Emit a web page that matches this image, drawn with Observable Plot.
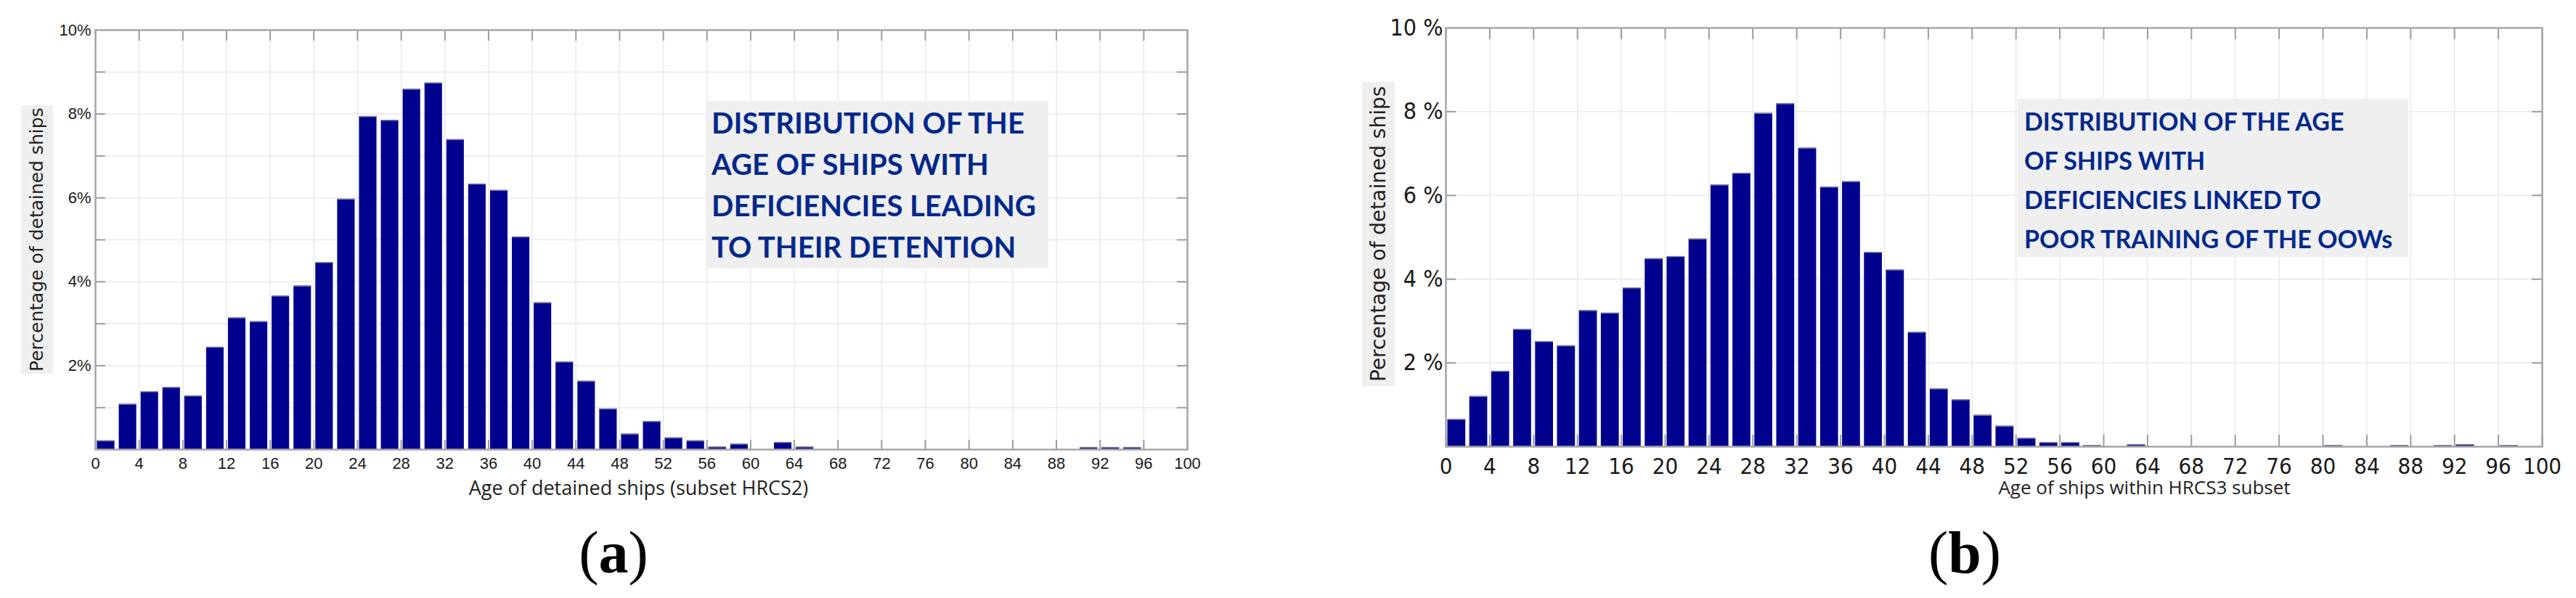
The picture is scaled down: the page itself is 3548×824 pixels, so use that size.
<!DOCTYPE html>
<html><head><meta charset="utf-8">
<script src="https://cdn.jsdelivr.net/npm/d3@7"></script>
<script src="https://cdn.jsdelivr.net/npm/@observablehq/plot@0.6"></script>
<style>
html,body{margin:0;padding:0;background:#fff;}
#page{position:relative;width:3548px;height:824px;overflow:hidden;background:#fff;}
.panel{position:absolute;top:0;}
.ylab{position:absolute;background:#efefef;writing-mode:vertical-rl;transform:rotate(180deg);text-align:center;font-family:"DejaVu Sans",sans-serif;color:#222;white-space:nowrap;}
.note{position:absolute;background:#efefef;color:#00288c;font-family:Lato,"Open Sans",sans-serif;font-weight:bold;white-space:pre;box-sizing:border-box;}
.sub{position:absolute;font-family:"Liberation Serif","Times New Roman",serif;color:#000;line-height:1;white-space:nowrap;transform:translateX(-50%);}
</style></head>
<body><div id="page"></div>
<script>
// Age bins (start of each 2-year bin)
const binStart = [0,2,4,6,8,10,12,14,16,18,20,22,24,26,28,30,32,34,36,38,40,42,44,46,48,
                  50,52,54,56,58,60,62,64,66,68,70,72,74,76,78,80,82,84,86,88,90,92,94,96,98];
// (a) HRCS2 subset, % of detained ships
const pctA = [0.21,1.08,1.38,1.48,1.28,2.44,3.14,3.05,3.66,3.90,4.46,5.97,7.94,7.85,8.59,8.74,7.39,6.33,6.18,5.07,
              3.50,2.09,1.63,0.97,0.37,0.67,0.28,0.21,0.06,0.13,0,0.17,0.06,0,0,0,0,0,0,0,
              0,0,0,0,0,0.05,0.05,0.05,0,0];
// (b) HRCS3 subset, % of detained ships
const pctB = [0.65,1.20,1.80,2.80,2.51,2.41,3.25,3.19,3.79,4.49,4.54,4.96,6.25,6.53,7.96,8.19,7.13,6.20,6.33,4.64,
              4.22,2.73,1.38,1.12,0.75,0.49,0.20,0.10,0.10,0.03,0,0.05,0,0,0,0,0,0,0,0,
              0.03,0,0,0.03,0,0.03,0.05,0,0.03,0];
const binWidth = 2;
const xTicks = [0,4,8,12,16,20,24,28,32,36,40,44,48,52,56,60,64,68,72,76,80,84,88,92,96,100];
const yLabelTicks = [2,4,6,8,10];
const yGridA = [1,2,3,4,5,6,7,8,9];
const yGridB = [2,4,6,8];
const xTitleA = "Age of detained ships (subset HRCS2)";
const xTitleB = "Age of ships within HRCS3 subset";
const yTitle = "Percentage of detained ships";
const noteA = ["DISTRIBUTION OF THE","AGE OF SHIPS WITH","DEFICIENCIES LEADING","TO THEIR DETENTION"];
const noteB = ["DISTRIBUTION OF THE AGE","OF SHIPS WITH","DEFICIENCIES LINKED TO","POOR TRAINING OF THE OOWs"];

const barColor = "#00008f";
const gridColor = "#e9e9e9";
const tickColor = "#9c9c9c";

function panel(cfg) {
  const data = binStart.map((s, i) => ({start: s, end: s + binWidth, pct: cfg.values[i]})).filter(d => d.pct > 0);
  const fw = cfg.width - cfg.ml - cfg.mr;
  const fh = cfg.height - cfg.mt - cfg.mb;
  return Plot.plot({
    width: cfg.width, height: cfg.height,
    marginLeft: cfg.ml, marginRight: cfg.mr, marginTop: cfg.mt, marginBottom: cfg.mb,
    style: {background: "transparent", overflow: "visible"},
    x: {domain: [0, 100]},
    y: {domain: [0, 10]},
    marks: [
      Plot.gridX({ticks: xTicks, stroke: gridColor, strokeOpacity: 1, strokeWidth: 1.5}),
      Plot.gridY({ticks: cfg.yGrid, stroke: gridColor, strokeOpacity: 1, strokeWidth: 1.5}),
      Plot.rectY(data, {x1: "start", x2: "end", y: "pct", fill: barColor,
        insetLeft: cfg.insetL, insetRight: cfg.insetR}),
      Plot.ruleY(data, {x1: "start", x2: "end", y: "pct", stroke: "#7c7c9c", strokeWidth: 1.5,
        insetLeft: cfg.insetL, insetRight: cfg.insetR}),
      Plot.tickX(xTicks, {x: d => d, insetTop: fh - cfg.tickB, stroke: tickColor, strokeWidth: 2}),
      Plot.tickX(xTicks, {x: d => d, insetBottom: fh - cfg.tickT, stroke: tickColor, strokeWidth: 2}),
      Plot.tickY(cfg.yGrid, {y: d => d, insetRight: fw - 14, stroke: tickColor, strokeWidth: 2}),
      Plot.tickY(cfg.yGrid, {y: d => d, insetLeft: fw - 14, stroke: tickColor, strokeWidth: 2}),
      Plot.frame({stroke: "#a6a6a6", strokeWidth: 2.5}),
      Plot.axisX({ticks: xTicks, tickSize: 0, tickPadding: cfg.xPad, label: null,
        fontSize: cfg.tickFont, fontFamily: cfg.tickFamily, fill: "#1a1a1a"}),
      Plot.axisY({ticks: yLabelTicks, tickSize: 0, tickPadding: cfg.yPad, label: null,
        tickFormat: cfg.fmt, fontSize: cfg.yTickFont, fontFamily: cfg.tickFamily, fill: "#1a1a1a"}),
      Plot.text([cfg.xTitle], {text: d => d, frameAnchor: "bottom", dx: cfg.titleDx, dy: cfg.titleDy,
        fontSize: cfg.titleFont, fontFamily: "Open Sans", fill: "#222"})
    ]
  });
}

const page = document.getElementById("page");

const pa = panel({values: pctA, width: 1760, height: 824, ml: 131, mr: 125, mt: 41, mb: 205,
  yGrid: yGridA, insetL: 2.5, insetR: 3.5, tickB: 13, tickT: 15, xPad: 11, yPad: 6,
  tickFont: 22, yTickFont: 22, tickFamily: "Liberation Sans, Arial, sans-serif",
  fmt: d => d + "%", xTitle: xTitleA, titleDx: -4, titleDy: 62, titleFont: 27});
pa.classList.add("panel"); pa.style.left = "0px";
page.appendChild(pa);

const pb = panel({values: pctB, width: 1748, height: 824, ml: 191, mr: 47, mt: 38, mb: 209,
  yGrid: yGridB, insetL: 2.5, insetR: 3, tickB: 16, tickT: 16, xPad: 15, yPad: 4,
  tickFont: 31, yTickFont: 32, tickFamily: "Liberation Sans Narrow, DejaVu Sans Condensed, Roboto, sans-serif",
  fmt: d => d + " %", xTitle: xTitleB, titleDx: 207, titleDy: 65, titleFont: 26});
pb.classList.add("panel"); pb.style.left = "1800px";
page.appendChild(pb);

function addDiv(cls, css, html) {
  const d = document.createElement("div");
  d.className = cls;
  Object.assign(d.style, css);
  d.innerHTML = html;
  page.appendChild(d);
  return d;
}
addDiv("ylab", {left: "29px", top: "145px", width: "44px", height: "370px", fontSize: "25px", lineHeight: "44px"}, yTitle);
addDiv("ylab", {left: "1876px", top: "113px", width: "45px", height: "419px", fontSize: "28px", lineHeight: "45px"}, yTitle);
addDiv("note", {left: "972px", top: "139px", width: "472px", height: "231px", paddingLeft: "8px", paddingTop: "2px",
  fontSize: "40px", lineHeight: "57px"}, noteA.join("\n"));
addDiv("note", {left: "2779px", top: "136px", width: "538px", height: "218px", paddingLeft: "9px", paddingTop: "4px",
  fontSize: "34px", lineHeight: "54px"}, noteB.join("\n"));
addDiv("sub", {left: "845px", top: "721px", fontSize: "82px"}, "(<b>a</b>)");
addDiv("sub", {left: "2706px", top: "721px", fontSize: "82px"}, "(<b>b</b>)");
</script>
</body></html>
